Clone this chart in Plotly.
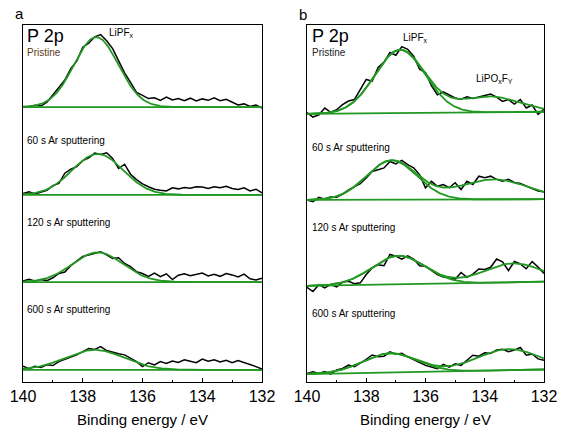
import numpy as np
import plotly.graph_objects as go

# ---------------- data ----------------
energy = [round(140 - 0.2 * i, 1) for i in range(41)]  # binding energy grid, eV

spectra_labels = ["Pristine", "60 s Ar sputtering", "120 s Ar sputtering", "600 s Ar sputtering"]

# panel a: P 2p intensities above baseline (a.u.)
a_pristine = [0.2, 0.1, 0.5, 0.3, 1.4, 3.3, 5.5, 7.6, 10.8, 12.9, 16.8, 17.9, 19.7, 20.3, 18.6, 16.4,
              12.9, 9.6, 6.9, 4.1, 3.3, 2.4, 2.6, 1.9, 2.8, 2.0, 2.4, 1.8, 2.5, 1.7, 2.3, 1.9, 2.6,
              1.8, 2.2, 1.3, 0.6, 0.9, 0.2, 0.6, -0.3]
a_60s = [0.4, 0.9, 0.3, 0.8, 1.3, 2.6, 3.2, 6.1, 7.2, 7.9, 9.6, 10.4, 11.7, 11.3, 11.8, 10.2, 7.4,
         8.6, 5.8, 4.3, 3.1, 2.3, 1.6, 1.3, 1.1, 2.0, 1.7, 2.1, 1.9, 2.3, 2.2, 1.8, 2.3, 2.0, 2.4,
         1.8, 1.5, 2.0, 1.1, 1.6, 0.6]
a_120s = [0.3, 0.8, 0.2, 0.7, 0.4, 1.2, 2.4, 2.8, 4.6, 5.8, 7.2, 7.6, 8.1, 8.5, 7.6, 6.6, 6.8, 5.2,
          4.3, 2.9, 2.4, 1.6, 2.5, 1.5, 2.3, 0.7, 1.9, 2.3, 1.8, 2.1, 2.5, 1.7, 2.2, 1.6, 2.4, 2.0,
          1.4, 2.2, 0.9, 0.6, 1.1]
a_600s = [1.0, 0.3, 1.0, 0.7, 1.4, 1.2, 2.3, 2.9, 3.7, 4.2, 5.1, 6.0, 5.7, 6.5, 5.4, 4.9, 4.5, 4.2,
          3.2, 2.3, 0.9, 2.0, 1.4, 2.3, 1.8, 2.5, 2.1, 2.8, 2.4, 2.0, 3.0, 2.4, 2.8, 2.2, 2.7, 2.0,
          2.6, 2.1, 1.4, 0.9, 0.2]

# panel b
b_pristine = [0.4, -0.9, -0.3, 1.6, 0.4, 1.1, 2.5, 3.5, 3.9, 6.7, 9.5, 9.0, 12.8, 14.3, 17.0, 16.2,
              18.6, 17.8, 15.9, 12.2, 11.3, 7.6, 5.0, 5.8, 4.9, 4.1, 3.7, 4.4, 3.9, 4.3, 4.7, 5.1,
              4.2, 3.0, 3.5, 2.2, 3.5, 1.1, 1.9, -0.7, 0.7]
b_60s = [0.0, -0.5, 0.7, 0.2, 0.9, 0.7, 1.6, 2.8, 3.7, 4.5, 6.1, 7.9, 8.4, 8.9, 10.7, 10.0, 11.0,
         9.8, 8.9, 7.0, 3.3, 5.1, 3.7, 4.2, 3.3, 4.7, 2.8, 5.1, 4.2, 6.5, 6.1, 6.5, 5.6, 5.1, 5.6,
         4.7, 4.4, 3.7, 2.8, 2.3, 2.1]
b_120s = [-0.4, -1.6, 0.3, -0.6, 0.3, -0.4, 0.9, 1.1, 0.4, 0.6, 2.9, 4.7, 5.6, 5.3, 8.4, 7.9, 7.0,
          7.9, 7.0, 5.1, 4.9, 3.7, 2.5, 1.8, 1.8, 1.1, 3.0, 1.6, 2.5, 3.9, 3.7, 4.3, 6.6, 5.8, 3.3,
          5.8, 5.1, 3.7, 5.7, 4.1, 2.3]
b_600s = [0.2, 0.6, 0.1, 0.6, -0.1, 1.0, 1.4, 2.3, 1.8, 2.7, 3.8, 5.0, 4.5, 4.6, 5.8, 5.1, 5.3, 4.3,
          3.5, 2.8, 1.8, 1.3, 0.8, 2.0, 1.2, 2.1, 1.6, 3.0, 4.4, 4.1, 5.0, 4.8, 5.7, 5.9, 5.2, 5.6,
          6.3, 4.1, 4.4, 3.0, 2.6]

# stacking offsets (baseline at 140 eV and at 132 eV)
a_base_left = [77.0, 52.4, 28.0, 3.4]
a_base_right = [77.0, 52.4, 28.0, 3.4]
b_base_left = [75.1, 51.0, 26.9, 2.2]
b_base_right = [75.7, 51.2, 28.1, 3.5]

# fitted components: (centre eV, height, FWHM eV)
a_fit_lipf = [(137.55, 19.6, 1.75), (137.5, 11.5, 2.0), (137.5, 8.3, 2.0), (137.6, 5.6, 2.3)]
b_fit_lipf = [(136.86, 17.7, 2.0), (137.14, 11.0, 2.0), (136.91, 8.0, 2.1), (137.2, 5.4, 2.14)]
b_fit_lipo = [(133.85, 4.4, 2.4), (133.7, 5.6, 2.8), (133.05, 5.3, 2.3), (133.2, 5.9, 2.5)]

tick_vals = [140, 138, 136, 134, 132]

# ---------------- figure ----------------
W, H = 561, 433
BLACK = "#000000"
GREEN = "#229822"

fig = go.Figure()

def px_x(p):
    return p / W

def px_y(p):
    return 1 - p / H

e = np.array(energy)
ef = np.linspace(140, 132, 321)

def gauss(x, c, h, f):
    return h * np.exp(-4 * np.log(2) * (x - c) ** 2 / f ** 2)

def base(x, left, right):
    return left + (right - left) * (140 - x) / 8.0

panels = [
    ("x", "y", [a_pristine, a_60s, a_120s, a_600s], a_base_left, a_base_right, a_fit_lipf, None),
    ("x2", "y2", [b_pristine, b_60s, b_120s, b_600s], b_base_left, b_base_right, b_fit_lipf, b_fit_lipo),
]

for xa, ya, series, bl, br, f1, f2 in panels:
    for i, s in enumerate(series):
        fig.add_trace(go.Scatter(x=e, y=base(e, bl[i], br[i]) + np.array(s), mode="lines",
                                 line=dict(color=BLACK, width=1.5), xaxis=xa, yaxis=ya,
                                 showlegend=False, hoverinfo="skip"))
    for i in range(len(series)):
        bb = base(ef, bl[i], br[i])
        fig.add_trace(go.Scatter(x=ef, y=bb, mode="lines", line=dict(color=GREEN, width=1.8),
                                 xaxis=xa, yaxis=ya, showlegend=False, hoverinfo="skip"))
        g1 = gauss(ef, *f1[i])
        fig.add_trace(go.Scatter(x=ef, y=bb + g1, mode="lines", line=dict(color=GREEN, width=1.8),
                                 xaxis=xa, yaxis=ya, showlegend=False, hoverinfo="skip"))
        if f2 is not None:
            g2 = gauss(ef, *f2[i])
            fig.add_trace(go.Scatter(x=ef, y=bb + g1 + g2, mode="lines", line=dict(color=GREEN, width=1.8),
                                     xaxis=xa, yaxis=ya, showlegend=False, hoverinfo="skip"))

FONT = "Arial, Liberation Sans, sans-serif"
axis_common = dict(range=[140, 132], tickvals=tick_vals, ticks="inside", ticklen=4, tickwidth=1,
                   tickcolor="black", showline=True, linecolor="black", linewidth=1, mirror=True,
                   showgrid=False, zeroline=False, automargin=False,
                   tickfont=dict(family=FONT, size=16, color="black"),
                   minor=dict(ticks="inside", ticklen=2, dtick=1, tickcolor="black", showgrid=False),
                   title=dict(text="Binding energy / eV", font=dict(family=FONT, size=15, color="black"),
                              standoff=10))
yaxis_common = dict(range=[0, 100], showticklabels=False, ticks="", showline=True, linecolor="black",
                    linewidth=1, mirror=True, showgrid=False, zeroline=False, automargin=False)

fig.update_layout(
    template="none",
    width=W, height=H, margin=dict(l=0, r=0, t=0, b=0, pad=0), autosize=False,
    paper_bgcolor="white", plot_bgcolor="white",
    xaxis=dict(domain=[23 / W, 262 / W], anchor="y", **axis_common),
    yaxis=dict(domain=[1 - 382 / H, 1 - 25 / H], anchor="x", **yaxis_common),
    xaxis2=dict(domain=[307 / W, 544 / W], anchor="y2", **axis_common),
    yaxis2=dict(domain=[1 - 382 / H, 1 - 25 / H], anchor="x2", **yaxis_common),
)

def label(text, x, y, size, color="black", xanchor="left"):
    fig.add_annotation(text=text, x=px_x(x), y=px_y(y), xref="paper", yref="paper",
                       xanchor=xanchor, yanchor="middle", showarrow=False,
                       font=dict(family=FONT, size=size, color=color))

# panel letters
label("a", 13, 14, 15)
label("b", 297, 15, 15)

# panel a texts
label("P 2p", 25, 36, 18)
label("Pristine", 25, 53, 10, "#5a3a14")
label("LiPF<sub>x</sub>", 107, 33, 10)
label(spectra_labels[1], 25, 141, 10)
label(spectra_labels[2], 25, 223, 10)
label(spectra_labels[3], 25, 309, 10)

# panel b texts
label("P 2p", 310, 36, 18)
label("Pristine", 310, 53, 10, "#222222")
label("LiPF<sub>x</sub>", 401, 38, 10)
label("LiPO<sub>x</sub>F<sub>Y</sub>", 474, 79, 10)
label(spectra_labels[1], 310, 147, 10)
label(spectra_labels[2], 310, 227, 10)
label(spectra_labels[3], 310, 313, 10)

fig.write_html("out.html", config={"displayModeBar": False},
               post_script="document.body.style.margin='0';document.body.style.padding='0';")
